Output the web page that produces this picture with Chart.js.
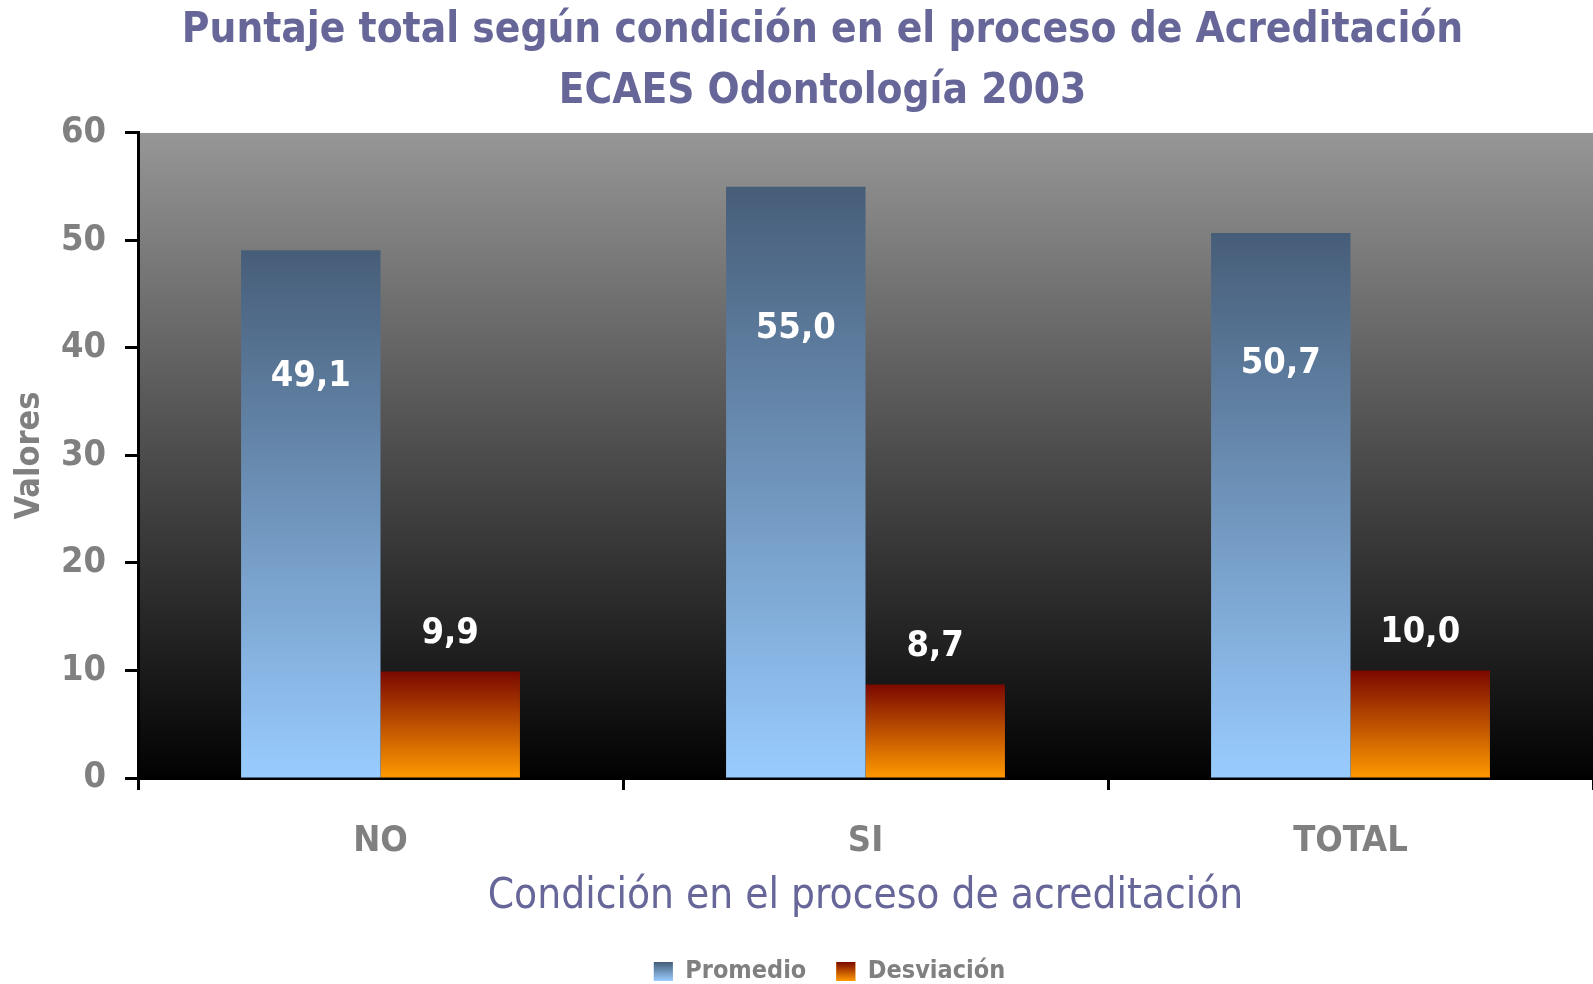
<!DOCTYPE html>
<html>
<head>
<meta charset="utf-8">
<script src="https://cdn.jsdelivr.net/npm/chart.js@4/dist/chart.umd.min.js"></script>
<style>
  html, body { margin: 0; padding: 0; background: #fff; }
  #wrap { width: 1593px; height: 984px; }
</style>
</head>
<body>
<div id="wrap"><canvas id="grafico" width="1593" height="984"></canvas></div>
<script>
// datos
const categorias = ["NO", "SI", "TOTAL"];
const promedio = [49.1, 55.0, 50.7];
const desviacion = [9.9, 8.7, 10.0];
const ticksY = [0, 10, 20, 30, 40, 50, 60];

const FUENTE = "'DejaVu Sans Condensed', 'Liberation Sans Narrow', 'DejaVu Sans', sans-serif";
const gris = "#808080";
const morado = "#666699";

const colAzul = ["#465d78", "#99ccff"];
const colNaranja = ["#7a0800", "#ff9900"];

function degradeBarra(colores) {
    return function (ctx) {
        const chart = ctx.chart;
        if (!chart.chartArea || ctx.type !== "data") return colores[1];
        const y = chart.scales.y;
        const arriba = y.getPixelForValue(ctx.raw);
        const abajo = y.getPixelForValue(0);
        const g = chart.ctx.createLinearGradient(0, arriba, 0, abajo);
        g.addColorStop(0, colores[0]);
        g.addColorStop(1, colores[1]);
        return g;
    };
}

function fmt(v) {
    return v.toFixed(1).replace(".", ",");
}

// en el original el titulo y la leyenda no estan centrados en el lienzo
const desplazarPlugin = {
    id: "desplazar",
    afterLayout(chart) {
        if (chart.titleBlock) {
            chart.titleBlock.left += 26;
            chart.titleBlock.right += 26;
        }
        if (chart.legend) {
            chart.legend.left += 33;
            chart.legend.right += 33;
        }
    }
};

// fondo del area de trazado
const fondoPlugin = {
    id: "fondo",
    beforeDraw(chart) {
        const { ctx, chartArea } = chart;
        const g = ctx.createLinearGradient(0, chartArea.top, 0, chartArea.bottom);
        g.addColorStop(0, "#969696");
        g.addColorStop(1, "#020202");
        ctx.save();
        ctx.fillStyle = g;
        ctx.fillRect(chartArea.left, chartArea.top, chartArea.right - chartArea.left, chartArea.bottom - chartArea.top);
        ctx.restore();
    }
};

// etiquetas de valor
const etiquetasPlugin = {
    id: "etiquetas",
    afterDatasetsDraw(chart) {
        const ctx = chart.ctx;
        const y = chart.scales.y;
        ctx.save();
        ctx.fillStyle = "#ffffff";
        ctx.font = "bold 36px " + FUENTE;
        ctx.textAlign = "center";
        ctx.textBaseline = "middle";
        chart.data.datasets.forEach(function (ds, i) {
            const meta = chart.getDatasetMeta(i);
            meta.data.forEach(function (bar, j) {
                const v = ds.data[j];
                let py;
                if (i === 0) {
                    py = y.getPixelForValue(v * 0.76);
                } else {
                    py = bar.y - 38;
                }
                ctx.fillText(fmt(v), bar.x, py);
            });
        });
        ctx.restore();
    }
};

// cuadros de la leyenda con degradado
const leyendaPlugin = {
    id: "leyendaDegradado",
    afterDraw(chart) {
        const leg = chart.legend;
        if (!leg || !leg.legendHitBoxes) return;
        const ctx = chart.ctx;
        const cols = [colAzul, colNaranja];
        leg.legendHitBoxes.forEach(function (hb, i) {
            const bw = leg.options.labels.boxWidth;
            const bh = leg.options.labels.boxHeight;
            const top = hb.top + (hb.height - bh) / 2;
            const g = ctx.createLinearGradient(0, top, 0, top + bh);
            g.addColorStop(0, cols[i][0]);
            g.addColorStop(1, cols[i][1]);
            ctx.save();
            ctx.fillStyle = g;
            ctx.fillRect(hb.left, top, bw, bh);
            ctx.restore();
        });
    }
};

const ctx = document.getElementById("grafico").getContext("2d");
new Chart(ctx, {
    type: "bar",
    data: {
        labels: categorias,
        datasets: [
            {
                label: "Promedio",
                data: promedio,
                backgroundColor: degradeBarra(colAzul),
                borderWidth: 0
            },
            {
                label: "Desviación",
                data: desviacion,
                backgroundColor: degradeBarra(colNaranja),
                borderWidth: 0
            }
        ]
    },
    options: {
        responsive: false,
        animation: false,
        layout: { padding: { top: 1, left: 0, right: 0, bottom: -10 } },
        datasets: {
            bar: { barPercentage: 1.0, categoryPercentage: 0.575 }
        },
        plugins: {
            title: {
                display: true,
                text: ["Puntaje total según condición en el proceso de Acreditación", "ECAES Odontología 2003"],
                color: morado,
                font: { family: FUENTE, size: 42, weight: "bold", lineHeight: 1.44 },
                padding: { top: 0, bottom: 11 }
            },
            legend: {
                display: true,
                position: "bottom",
                labels: {
                    color: gris,
                    font: { family: FUENTE, size: 25, weight: "bold" },
                    boxWidth: 19,
                    boxHeight: 19,
                    padding: 30
                }
            },
            tooltip: { enabled: false }
        },
        scales: {
            x: {
                grid: {
                    display: true,
                    drawOnChartArea: false,
                    drawTicks: true,
                    tickLength: 12,
                    tickWidth: 3,
                    tickColor: "#000000",
                    offset: true
                },
                border: { display: true, color: "#000000", width: 3 },
                ticks: {
                    color: gris,
                    font: { family: FUENTE, size: 36, weight: "bold" },
                    padding: 30
                },
                title: {
                    display: true,
                    text: "Condición en el proceso de acreditación",
                    color: morado,
                    font: { family: FUENTE, size: 42, weight: "normal" },
                    padding: { top: 0, bottom: 7 }
                },
                afterFit(scale) { scale.height = 151; }
            },
            y: {
                min: 0,
                max: 60,
                afterBuildTicks(scale) {
                    scale.ticks = ticksY.map(function (v) { return { value: v }; });
                },
                grid: {
                    display: true,
                    drawOnChartArea: false,
                    drawTicks: true,
                    tickLength: 13,
                    tickWidth: 3,
                    tickColor: "#000000"
                },
                border: { display: true, color: "#000000", width: 3 },
                ticks: {
                    color: gris,
                    font: { family: FUENTE, size: 36, weight: "bold" },
                    padding: 19
                },
                title: {
                    display: true,
                    text: "Valores",
                    color: gris,
                    font: { family: FUENTE, size: 34, weight: "bold" },
                    padding: { top: 10, bottom: 0 }
                },
                afterFit(scale) { scale.width = 138; }
            }
        }
    },
    plugins: [desplazarPlugin, fondoPlugin, etiquetasPlugin, leyendaPlugin]
});
</script>
</body>
</html>
